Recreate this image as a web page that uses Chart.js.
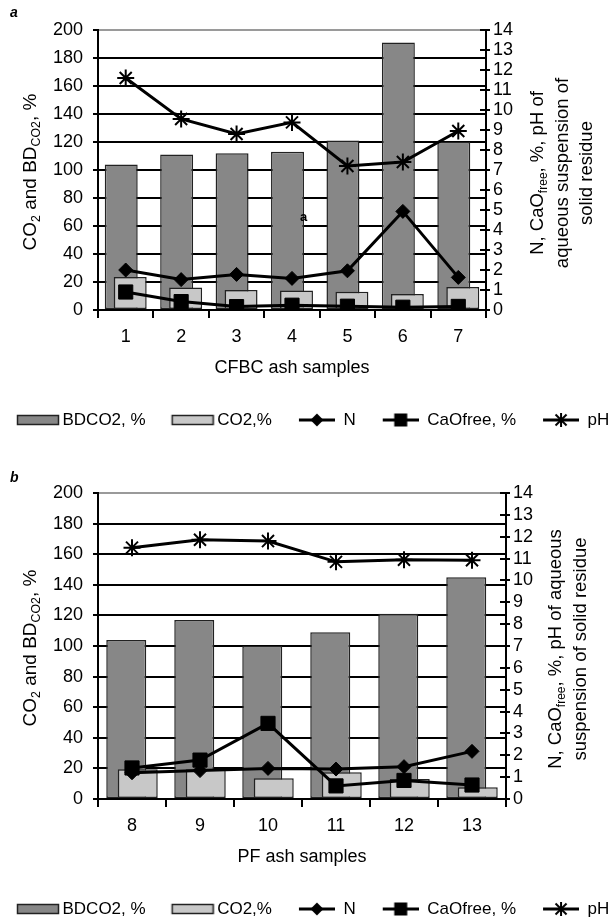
<!DOCTYPE html>
<html><head><meta charset="utf-8">
<script src="https://cdn.jsdelivr.net/npm/chart.js@4.4.1/dist/chart.umd.min.js"></script>
<style>
html,body{margin:0;padding:0;background:#fff;overflow:hidden;width:615px;height:917px}
#wrap{position:relative;width:615px;height:917px;overflow:hidden;background:#fff}
canvas{position:absolute;left:0;display:block}
</style></head><body>
<div id="wrap">
<canvas id="ca" width="615" height="458" style="top:0"></canvas>
<canvas id="cb" width="615" height="470" style="top:458px"></canvas>
</div>
<script>
// ---------- data ----------
const cfbcSamples = ['1','2','3','4','5','6','7'];
const cfbcBDCO2 = [104, 111, 112, 113, 121, 191, 120];
const cfbcCO2   = [23.5, 16, 14.3, 14, 13, 11.4, 16.5];
const cfbcN     = [2.0, 1.52, 1.78, 1.58, 1.96, 4.93, 1.63];
const cfbcCaO   = [0.9, 0.42, 0.17, 0.24, 0.19, 0.14, 0.18];
const cfbcPH    = [11.6, 9.55, 8.8, 9.38, 7.2, 7.4, 8.95];

const pfSamples = ['8','9','10','11','12','13'];
const pfBDCO2 = [104, 117, 100, 109, 121, 145];
const pfCO2   = [19.5, 19.5, 13.5, 17.5, 13, 7.6];
const pfN     = [1.2, 1.3, 1.4, 1.37, 1.48, 2.18];
const pfCaO   = [1.42, 1.78, 3.46, 0.6, 0.85, 0.64];
const pfPH    = [11.5, 11.86, 11.8, 10.85, 10.95, 10.92];

const seriesNames = ['BDCO2, %', 'CO2,%', 'N', 'CaOfree, %', 'pH'];
const leftTicksMax = 200, leftStep = 20;
const rightTicksMax = 14, rightStep = 1;

const leftTitleParts = [['CO',0],['2',1],[' and BD',0],['CO2',1],[', %',0]];
const rightTitleA = [
  [['N, CaO',0],['free',1],[', %, pH of',0]],
  [['aqueous suspension of',0]],
  [['solid residue',0]]
];
const rightTitleB = [
  [['N, CaO',0],['free',1],[', %, pH of aqueous',0]],
  [['suspension of solid residue',0]]
];

// ---------- styling ----------
const FAMILY = "'Liberation Sans', Arial, Helvetica, sans-serif";
Chart.defaults.font.family = FAMILY;
Chart.defaults.color = '#000';
const DARK = '#878787', LIGHT = '#c8c8c8', EDGE = '#222';

function makeIcon(kind) {
  const c = document.createElement('canvas');
  const g = c.getContext('2d');
  if (kind === 'barDark' || kind === 'barLight') {
    c.width = 69; c.height = 14;
    g.fillStyle = kind === 'barDark' ? DARK : LIGHT;
    g.fillRect(26.5, 2.5, 41, 9);
    g.strokeStyle = EDGE; g.lineWidth = 1.5;
    g.strokeRect(26.5, 2.5, 41, 9);
  } else {
    c.width = 57; c.height = 20;
    g.strokeStyle = '#000'; g.fillStyle = '#000'; g.lineWidth = 3;
    g.beginPath(); g.moveTo(21, 10); g.lineTo(57, 10); g.stroke();
    const cx = 39, cy = 10;
    if (kind === 'diamond') {
      g.beginPath(); g.moveTo(cx, cy - 6.5); g.lineTo(cx + 6.5, cy); g.lineTo(cx, cy + 6.5); g.lineTo(cx - 6.5, cy); g.closePath(); g.fill();
    } else if (kind === 'square') {
      g.fillRect(cx - 6.5, cy - 6.5, 13, 13);
    } else {
      g.lineWidth = 2;
      g.beginPath();
      g.moveTo(cx, cy - 7); g.lineTo(cx, cy + 7);
      g.moveTo(cx - 5.5, cy - 5.5); g.lineTo(cx + 5.5, cy + 5.5);
      g.moveTo(cx - 5.5, cy + 5.5); g.lineTo(cx + 5.5, cy - 5.5);
      g.stroke();
    }
  }
  return c;
}
const icons = [makeIcon('barDark'), makeIcon('barLight'), makeIcon('diamond'), makeIcon('square'), makeIcon('star')];

// draw the light bars after the dark bars (Excel-like overlap)
const barLayering = {
  id: 'barLayering',
  beforeDatasetDraw(chart, args) { if (args.index === 1) return false; },
  afterDatasetDraw(chart, args) {
    if (args.index === 0) chart.getDatasetMeta(1).controller.draw();
  }
};

function drawRich(ctx, parts, cx, cy, size, rotate) {
  ctx.save();
  ctx.translate(cx, cy);
  if (rotate) ctx.rotate(-Math.PI / 2);
  let total = 0;
  const ws = parts.map(([t, s]) => {
    ctx.font = (s ? size * 0.65 : size) + 'px ' + FAMILY;
    const w = ctx.measureText(t).width; total += w; return w;
  });
  let x = -total / 2;
  ctx.textBaseline = 'middle'; ctx.textAlign = 'left'; ctx.fillStyle = '#000';
  parts.forEach(([t, s], i) => {
    ctx.font = (s ? size * 0.65 : size) + 'px ' + FAMILY;
    ctx.fillText(t, x, s ? size * 0.3 : 0);
    x += ws[i];
  });
  ctx.restore();
}

const decorations = {
  id: 'decorations',
  afterDraw(chart, args, o) {
    const ctx = chart.ctx, a = chart.chartArea;
    const mid = (a.top + a.bottom) / 2;
    drawRich(ctx, leftTitleParts, o.leftX, mid + o.leftDy, 19, true);
    o.rightLines.forEach((parts, i) => {
      drawRich(ctx, parts, a.right + o.rightX + i * o.rightGap, mid + o.rightDy, 18.5, true);
    });
    const s = chart.scales.y1;
    ctx.save();
    ctx.strokeStyle = '#000'; ctx.lineWidth = 2;
    s.ticks.forEach(t => {
      const y = Math.round(s.getPixelForValue(t.value));
      ctx.beginPath(); ctx.moveTo(a.right - 6, y); ctx.lineTo(a.right, y); ctx.stroke();
    });
    ctx.fillStyle = '#000';
    ctx.font = 'italic bold 14px ' + FAMILY;
    ctx.textBaseline = 'middle'; ctx.textAlign = 'left';
    ctx.fillText(o.letter, o.letterX, o.letterY);
    if (o.stray) {
      ctx.font = 'bold 13px ' + FAMILY;
      ctx.fillText(o.stray.text, o.stray.x, o.stray.y);
    }
    ctx.restore();
  }
};

function makeChart(id, labels, bd, co2, n, cao, ph, g) {
  const datasets = [
    { type: 'bar', label: seriesNames[0], data: bd, yAxisID: 'y', order: 1,
      backgroundColor: DARK, borderColor: EDGE, borderWidth: 1.5, borderSkipped: false,
      categoryPercentage: g.cp, barPercentage: g.bp },
    { type: 'bar', label: seriesNames[1], data: co2, yAxisID: 'y', order: 2,
      backgroundColor: LIGHT, borderColor: EDGE, borderWidth: 1.5, borderSkipped: false,
      categoryPercentage: g.cp, barPercentage: g.bp },
    { type: 'line', label: seriesNames[2], data: n, yAxisID: 'y1', order: 0,
      borderColor: '#000', borderWidth: 3, pointStyle: 'rectRot', pointRadius: 7,
      pointBackgroundColor: '#000', pointBorderColor: '#000', pointBorderWidth: 1, tension: 0 },
    { type: 'line', label: seriesNames[3], data: cao, yAxisID: 'y1', order: 0,
      borderColor: '#000', borderWidth: 3, pointStyle: 'rect', pointRadius: 10,
      pointBackgroundColor: '#000', pointBorderColor: '#000', pointBorderWidth: 1, tension: 0 },
    { type: 'line', label: seriesNames[4], data: ph, yAxisID: 'y1', order: 0,
      borderColor: '#000', borderWidth: 3, pointStyle: 'star', pointRadius: 8.5,
      pointBackgroundColor: '#000', pointBorderColor: '#000', pointBorderWidth: 2, tension: 0 }
  ];
  return new Chart(document.getElementById(id), {
    data: { labels, datasets },
    plugins: [barLayering, decorations],
    options: {
      responsive: false, animation: false, devicePixelRatio: 1, events: [],
      layout: { padding: { left: -9, right: -15, top: g.top, bottom: g.bottom } },
      plugins: {
        tooltip: { enabled: false },
        legend: {
          display: true, position: 'bottom', align: 'start',
          labels: {
            usePointStyle: true, pointStyleWidth: 57, padding: 6,
            font: { size: 17 }, color: '#000',
            generateLabels: (chart) => chart.data.datasets.map((ds, i) => ({
              text: ds.label, pointStyle: icons[i], datasetIndex: i, hidden: false,
              fontColor: '#000', lineWidth: 0, strokeStyle: 'rgba(0,0,0,0)', fillStyle: 'rgba(0,0,0,0)'
            }))
          }
        },
        decorations: {
          leftX: 31, leftDy: 2, rightLines: g.rightLines, rightX: g.rightX, rightGap: 24.5,
          rightDy: 3, letter: g.letter, letterX: 10, letterY: g.letterY, stray: g.stray
        }
      },
      scales: {
        x: {
          type: 'category', position: 'bottom',
          grid: { offset: true, drawOnChartArea: false, drawTicks: true, tickLength: 8, color: '#000', lineWidth: 2 },
          border: { display: true, color: '#000', width: 2 },
          ticks: { font: { size: 18 }, color: '#000', padding: 8.2, maxRotation: 0 },
          title: { display: true, text: g.xTitle, font: { size: 18 }, color: '#000', padding: { top: 0, bottom: 26.7 } },
          afterFit(s) { s.height = 95.5; }
        },
        y: {
          position: 'left', min: 0, max: leftTicksMax,
          ticks: { stepSize: leftStep, font: { size: 18 }, color: '#000', padding: 10, autoSkip: false },
          grid: { color: (c) => c.tick && c.tick.value === leftTicksMax ? '#9a9a9a' : '#000',
                  tickColor: '#000', lineWidth: 2, tickLength: 5 },
          border: { display: true, color: '#000', width: 2 },
          afterFit(s) { s.width = 107; }
        },
        y1: {
          position: 'right', min: 0, max: rightTicksMax,
          ticks: { stepSize: rightStep, font: { size: 18 }, color: '#000', padding: 3, autoSkip: false },
          grid: { drawOnChartArea: false, tickLength: 4, color: '#000', lineWidth: 2 },
          border: { display: true, color: '#000', width: 2 },
          afterFit(s) { s.width = g.rightW; }
        }
      }
    }
  });
}

makeChart('ca', cfbcSamples, cfbcBDCO2, cfbcCO2, cfbcN, cfbcCaO, cfbcPH, {
  cp: 0.324, bp: 3.67, top: 30, bottom: 19.5, rightW: 144, xTitle: 'CFBC ash samples',
  rightLines: rightTitleA, rightX: 52, letter: 'a', letterY: 13,
  stray: { text: 'a', x: 300, y: 217 }
});
makeChart('cb', pfSamples, pfBDCO2, pfCO2, pfN, pfCaO, pfPH, {
  cp: 0.338, bp: 3.48, top: 35, bottom: 0.5, rightW: 124, xTitle: 'PF ash samples',
  rightLines: rightTitleB, rightX: 50, letter: 'b', letterY: 20, stray: null
});
</script>
</body></html>
